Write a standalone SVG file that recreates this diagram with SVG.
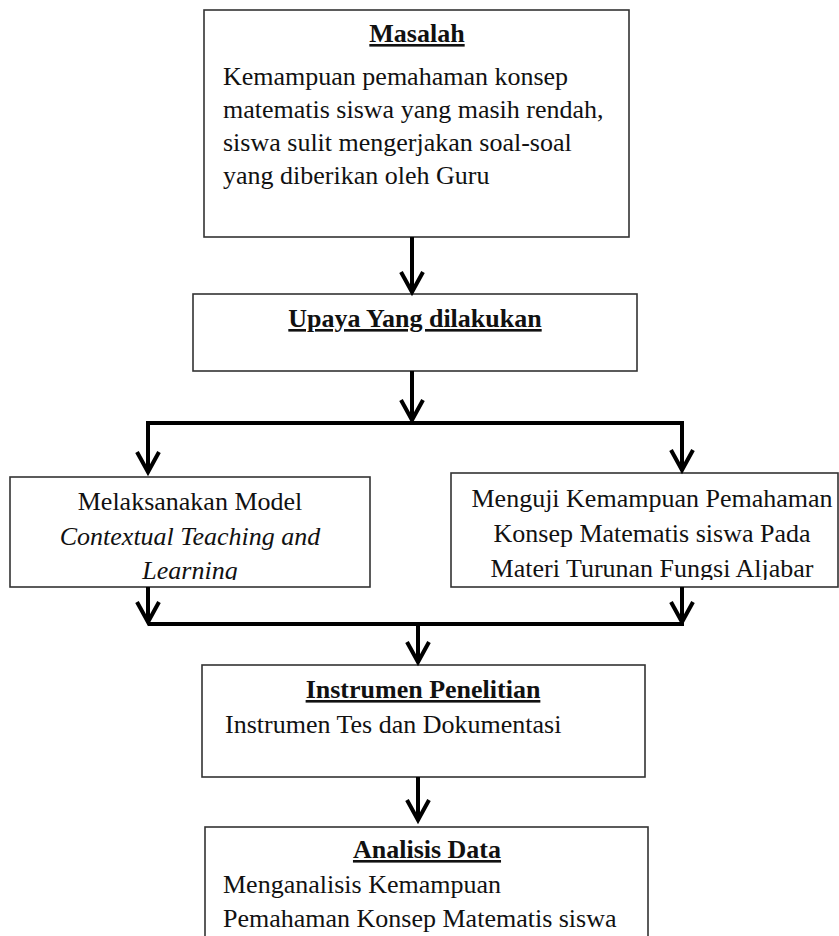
<svg xmlns="http://www.w3.org/2000/svg" width="839" height="936" viewBox="0 0 839 936">
<style>
.box{fill:#fff;stroke:#333;stroke-width:1.6}
text{font-family:"Liberation Serif","Times New Roman",serif;font-size:26px;fill:#111}
.t{font-weight:bold;text-decoration:underline;text-anchor:middle}
.c{text-anchor:middle}
.i{font-style:italic}
.ln{fill:none;stroke:#000;stroke-width:4}
.ah{fill:none;stroke:#000;stroke-width:4;stroke-linejoin:miter}
</style>
<defs>
<clipPath id="clipL"><rect x="10" y="477" width="360" height="103"/></clipPath>
<clipPath id="clipR"><rect x="451" y="473" width="387" height="107"/></clipPath>
</defs>
<rect width="839" height="936" fill="#fff"/>
<g id="masalah">
<rect class="box" x="204" y="10" width="425" height="227"/>
<text class="t" x="417" y="42">Masalah</text>
<text x="223" y="85">Kemampuan pemahaman konsep</text>
<text x="223" y="118">matematis siswa yang masih rendah,</text>
<text x="223" y="151">siswa sulit mengerjakan soal-soal</text>
<text x="223" y="184">yang diberikan oleh Guru</text>
</g>
<g id="upaya">
<rect class="box" x="193" y="294" width="444" height="77"/>
<text class="t" x="415" y="327">Upaya Yang dilakukan</text>
</g>
<g id="model">
<rect class="box" x="10" y="477" width="360" height="110"/>
<g clip-path="url(#clipL)">
<text class="c" x="190" y="510">Melaksanakan Model</text>
<text class="c i" x="190" y="545">Contextual Teaching and</text>
<text class="c i" x="190" y="579">Learning</text>
</g>
</g>
<g id="menguji">
<rect class="box" x="451" y="473" width="387" height="114"/>
<g clip-path="url(#clipR)">
<text class="c" x="652" y="507">Menguji Kemampuan Pemahaman</text>
<text class="c" x="652" y="542">Konsep Matematis siswa Pada</text>
<text class="c" x="652" y="577">Materi Turunan Fungsi Aljabar</text>
</g>
</g>
<g id="instrumen">
<rect class="box" x="202" y="665" width="443" height="112"/>
<text class="t" x="423" y="698">Instrumen Penelitian</text>
<text x="225" y="733">Instrumen Tes dan Dokumentasi</text>
</g>
<g id="analisis">
<rect class="box" x="205" y="827" width="443" height="130"/>
<text class="t" x="427" y="858">Analisis Data</text>
<text x="223" y="893">Menganalisis Kemampuan</text>
<text x="223" y="927">Pemahaman Konsep Matematis siswa</text>
</g>
<g id="connectors">
<line class="ln" x1="412" y1="237" x2="412" y2="291"/>
<polyline class="ah" points="401,272 412,292 423,272"/>
<line class="ln" x1="412" y1="371" x2="412" y2="419"/>
<polyline class="ah" points="401,400 412,420 423,400"/>
<path class="ln" d="M148,472 V423 H682 V470"/>
<polyline class="ah" points="137,452 148,472 159,452"/>
<polyline class="ah" points="671,450 682,470 693,450"/>
<line class="ln" x1="148" y1="587" x2="148" y2="622"/>
<polyline class="ah" points="137,602 148,622 159,602"/>
<line class="ln" x1="682" y1="587" x2="682" y2="622"/>
<polyline class="ah" points="671,602 682,622 693,602"/>
<line class="ln" x1="148" y1="624" x2="684" y2="624"/>
<line class="ln" x1="418" y1="624" x2="418" y2="661"/>
<polyline class="ah" points="407,642 418,662 429,642"/>
<line class="ln" x1="418" y1="777" x2="418" y2="819"/>
<polyline class="ah" points="407,800 418,820 429,800"/>
</g>
</svg>
